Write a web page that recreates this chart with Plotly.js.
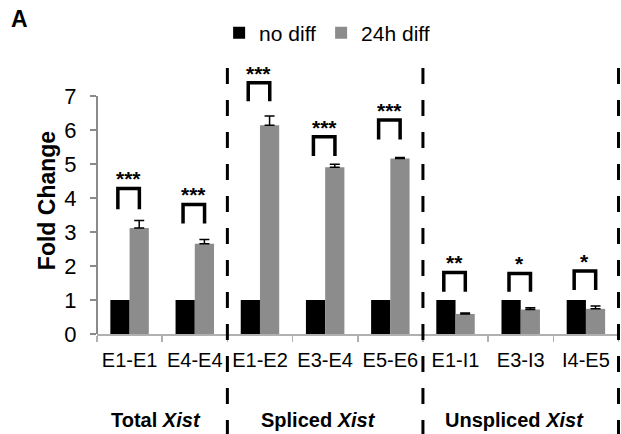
<!DOCTYPE html>
<html>
<head>
<meta charset="utf-8">
<script src="https://cdn.plot.ly/plotly-3.0.1.min.js"></script>
<style>html,body{margin:0;padding:0;background:#fff;}#chart{width:621px;height:434px;}</style>
</head>
<body>
<div id="chart"></div>
<script>
// ---- data ----
var categories = ['E1-E1', 'E4-E4', 'E1-E2', 'E3-E4', 'E5-E6', 'E1-I1', 'E3-I3', 'I4-E5'];
var noDiff = [1, 1, 1, 1, 1, 1, 1, 1];
var diff24h = [3.12, 2.65, 6.14, 4.90, 5.16, 0.59, 0.72, 0.74];
var diff24hErr = [0.22, 0.13, 0.27, 0.09, 0.03, 0.03, 0.05, 0.08];
var sigLabels = ['***', '***', '***', '***', '***', '**', '*', '*'];
var bracketTop = [4.28, 3.81, 7.39, 5.80, 6.29, 1.81, 1.78, 1.85];
var bracketBottom = [3.67, 3.25, 6.84, 5.23, 5.72, 1.24, 1.24, 1.29];
var groupLabels = ['Total <i>Xist</i>', 'Spliced <i>Xist</i>', 'Unspliced <i>Xist</i>'];
var groupCenters = [0.5, 3, 6];
var groupBounds = [1.5, 4.5, 7.5];
var seriesNames = ['no diff', '24h diff'];
var yTicks = [0, 1, 2, 3, 4, 5, 6, 7];
var yAxisMax = 7;

var SANS = '"Liberation Sans", Arial, Helvetica, sans-serif';

var zeros = diff24hErr.map(function () { return 0; });

var traces = [
  {type: 'bar', name: seriesNames[0], x: categories, y: noDiff,
   marker: {color: '#000000', line: {width: 0}}},
  {type: 'bar', name: seriesNames[1], x: categories, y: diff24h,
   marker: {color: '#8c8c8c', line: {width: 0}},
   error_y: {type: 'data', symmetric: false, array: diff24hErr, arrayminus: zeros, visible: true,
     color: '#000000', thickness: 1.5, width: 5}}
];

var shapes = [];
var annotations = [];
// y axis line only up to the last tick
shapes.push({type: 'line', xref: 'paper', yref: 'y', x0: 0, x1: 0, y0: 0, y1: yAxisMax,
  line: {color: '#8a8a8a', width: 2}});
for (var i = 0; i < categories.length; i++) {
  var xl = i - 0.18, xr = i + 0.15;
  shapes.push({type: 'path', xref: 'x', yref: 'y',
    path: 'M' + xl + ',' + bracketBottom[i] + ' L' + xl + ',' + bracketTop[i] + ' L' + xr + ',' + bracketTop[i] + ' L' + xr + ',' + bracketBottom[i],
    line: {color: '#000000', width: 3.5}});
  annotations.push({xref: 'x', yref: 'y', x: (xl + xr) / 2, y: bracketTop[i], text: '<b>' + sigLabels[i] + '</b>',
    showarrow: false, yanchor: 'bottom', yshift: -4,
    font: {family: SANS, size: 21, color: '#000'}});
}
for (var g = 0; g < groupBounds.length; g++) {
  shapes.push({type: 'line', xref: 'x', yref: 'paper', x0: groupBounds[g], x1: groupBounds[g],
    y0: 0.996, y1: -0.42, line: {color: '#000000', width: 3, dash: '16px,16px'}});
}
for (var k = 0; k < groupLabels.length; k++) {
  annotations.push({xref: 'x', yref: 'paper', x: groupCenters[k] - 0.1, y: -0.322, yanchor: 'middle',
    text: '<b>' + groupLabels[k] + '</b>', showarrow: false,
    font: {family: SANS, size: 20, color: '#000'}});
}
annotations.push({xref: 'paper', yref: 'paper', x: -0.168, y: 1.178, xanchor: 'left', yanchor: 'middle',
  text: '<b>A</b>', showarrow: false, font: {family: SANS, size: 23, color: '#000'}});

var layout = {
  width: 621, height: 434,
  margin: {l: 97, r: 1, t: 67, b: 100},
  paper_bgcolor: '#ffffff', plot_bgcolor: '#ffffff',
  barmode: 'group', bargap: 0.41, bargroupgap: 0,
  showlegend: true,
  legend: {orientation: 'h', x: 0.44, xanchor: 'center', y: 1.127, yanchor: 'middle',
    font: {family: SANS, size: 21, color: '#000'}, itemwidth: 30, traceorder: 'normal'},
  xaxis: {type: 'category', tickson: 'boundaries', ticks: 'outside', ticklen: 6, tickwidth: 1.5,
    tickcolor: '#b0b0b0', showline: true, linecolor: '#b0b0b0', linewidth: 2,
    showgrid: false, zeroline: false, fixedrange: true,
    tickfont: {family: SANS, size: 20, color: '#000'}, ticklabelstandoff: 7},
  yaxis: {range: [0, 7.85], tickvals: yTicks, ticks: 'outside', ticklen: 6, tickwidth: 1.5,
    tickcolor: '#8a8a8a', showline: false,
    showgrid: false, zeroline: false, fixedrange: true,
    tickfont: {family: SANS, size: 22, color: '#000'}, ticklabelstandoff: 9,
    title: {text: '<b>Fold Change</b>', font: {family: SANS, size: 23, color: '#000'}, standoff: 2}},
  shapes: shapes,
  annotations: annotations
};

Plotly.newPlot('chart', traces, layout, {displayModeBar: false, staticPlot: true});
</script>
</body>
</html>
